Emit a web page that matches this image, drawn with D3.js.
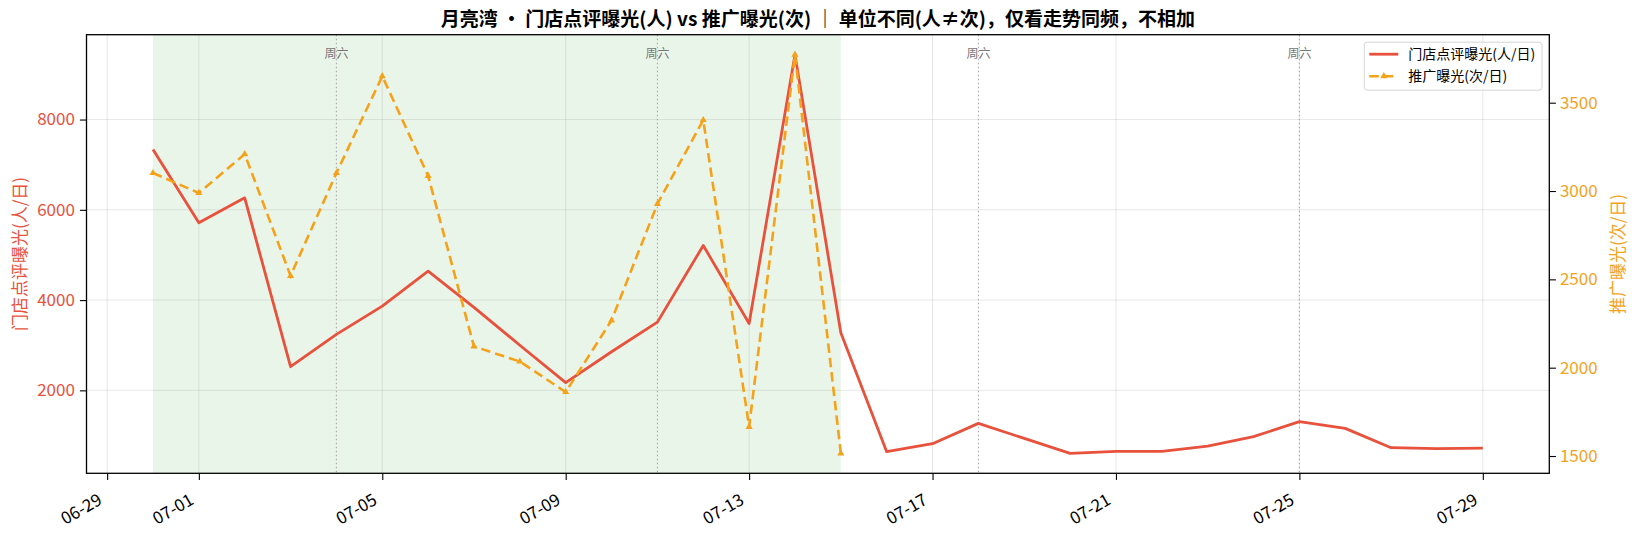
<!DOCTYPE html>
<html>
<head>
<meta charset="utf-8">
<script src="https://cdn.jsdelivr.net/npm/d3@7/dist/d3.min.js"></script>
<style>
    body { margin: 0; background: #fff; }
    svg text { font-family: "Noto Sans CJK SC", "Noto Sans", sans-serif; }
</style>
</head>
<body>
<svg width="1635" height="535"></svg>
<script>

    // data
    var days = ["2026-06-30", "2026-07-01", "2026-07-02", "2026-07-03", "2026-07-04", "2026-07-05",
        "2026-07-06", "2026-07-07", "2026-07-08", "2026-07-09", "2026-07-10", "2026-07-11",
        "2026-07-12", "2026-07-13", "2026-07-14", "2026-07-15", "2026-07-16", "2026-07-17",
        "2026-07-18", "2026-07-19", "2026-07-20", "2026-07-21", "2026-07-22", "2026-07-23",
        "2026-07-24", "2026-07-25", "2026-07-26", "2026-07-27", "2026-07-28", "2026-07-29"];
    var storeViews = [7335, 5712, 6265, 2524, 3240, 3866, 4641, 3840, 3000, 2170,
        2856, 3511, 5209, 3482, 9438, 3276, 642, 819, 1268, 935,
        604, 649, 649, 766, 974, 1306, 1158, 730, 708, 722];
    var promoDays = days.slice(0, 16);
    var promoViews = [3102, 2989, 3209, 2520, 3102, 3650, 3086, 2120, 2035, 1862,
        2268, 2927, 3402, 1665, 3772, 1515];
    var xTickLabels = ["06-29", "07-01", "07-05", "07-09", "07-13", "07-17", "07-21", "07-25", "07-29"];
    var leftTicks = [2000, 4000, 6000, 8000];
    var rightTicks = [1500, 2000, 2500, 3000, 3500];
    var saturdays = ["2026-07-04", "2026-07-11", "2026-07-18", "2026-07-25"];
    var promoSpan = ["2026-06-30", "2026-07-15"];

    var storeName = "门店点评曝光(人/日)",
        promoName = "推广曝光(次/日)",
        title = "月亮湾 • 门店点评曝光(人) vs 推广曝光(次) ｜ 单位不同(人≠次)，仅看走势同频，不相加";

    var red = "#e8513c", orange = "#f5a21b";

    var parse = d3.timeParse("%Y-%m-%d");
    var storeData = days.map(function(d, i) { return {date: parse(d), v: storeViews[i]}; });
    var promoData = promoDays.map(function(d, i) { return {date: parse(d), v: promoViews[i]}; });

    var svg = d3.select("svg"),
        margin = {top: 34.7, right: 85.7, bottom: 61.7, left: 86.5},
        width = +svg.attr("width") - margin.left - margin.right,
        height = +svg.attr("height") - margin.top - margin.bottom;

    // matplotlib-like 5% margins
    function pad(ext) {
        var r = ext[1] - ext[0];
        return [ext[0] - 0.05 * r, ext[1] + 0.05 * r];
    }

    var xExt = pad(d3.extent(storeData, function(d) { return +d.date; }));
    var x = d3.scaleTime().domain([new Date(xExt[0]), new Date(xExt[1])]).range([0, width]);
    var y = d3.scaleLinear().domain(pad(d3.extent(storeViews))).range([height, 0]);
    var y2 = d3.scaleLinear().domain(pad(d3.extent(promoViews))).range([height, 0]);

    var tickDates = xTickLabels.map(function(t) { return parse("2026-" + t); });

    var g = svg.append("g")
        .attr("transform", "translate(" + margin.left + "," + margin.top + ")");

    // promo period shading
    g.append("rect")
        .attr("x", x(parse(promoSpan[0])))
        .attr("y", 0)
        .attr("width", x(parse(promoSpan[1])) - x(parse(promoSpan[0])))
        .attr("height", height)
        .attr("fill", "#2ca02c")
        .attr("fill-opacity", 0.1);

    // grid
    g.selectAll(".vgrid").data(tickDates).enter().append("line")
        .attr("x1", function(d) { return x(d); }).attr("x2", function(d) { return x(d); })
        .attr("y1", 0).attr("y2", height)
        .attr("stroke", "#b0b0b0").attr("stroke-opacity", 0.35).attr("stroke-width", 0.9);
    g.selectAll(".hgrid").data(leftTicks).enter().append("line")
        .attr("x1", 0).attr("x2", width)
        .attr("y1", function(d) { return y(d); }).attr("y2", function(d) { return y(d); })
        .attr("stroke", "#b0b0b0").attr("stroke-opacity", 0.35).attr("stroke-width", 0.9);

    // saturdays
    var sat = g.selectAll(".sat").data(saturdays).enter().append("g");
    sat.append("line")
        .attr("x1", function(d) { return x(parse(d)); }).attr("x2", function(d) { return x(parse(d)); })
        .attr("y1", 0).attr("y2", height)
        .attr("stroke", "#aaa").attr("stroke-width", 1.1)
        .attr("stroke-dasharray", "1.5,2.5");
    sat.append("text")
        .attr("x", function(d) { return x(parse(d)); })
        .attr("y", 23)
        .attr("text-anchor", "middle")
        .attr("font-size", "12px")
        .attr("fill", "#777")
        .text("周六");

    // lines
    var storeLine = d3.line().x(function(d) { return x(d.date); }).y(function(d) { return y(d.v); });
    var promoLine = d3.line().x(function(d) { return x(d.date); }).y(function(d) { return y2(d.v); });

    g.append("path")
        .datum(storeData)
        .attr("fill", "none")
        .attr("stroke", red)
        .attr("stroke-width", 2.8)
        .attr("stroke-linejoin", "round")
        .attr("d", storeLine);

    g.append("path")
        .datum(promoData)
        .attr("fill", "none")
        .attr("stroke", orange)
        .attr("stroke-width", 2.6)
        .attr("stroke-dasharray", "9.5,5")
        .attr("d", promoLine);

    var tri = d3.symbol().type(d3.symbolTriangle).size(22);
    g.selectAll(".mk").data(promoData).enter().append("path")
        .attr("transform", function(d) { return "translate(" + x(d.date) + "," + y2(d.v) + ")"; })
        .attr("d", tri)
        .attr("fill", orange);

    // axes
    var xAxis = g.append("g")
        .attr("transform", "translate(0," + height + ")")
        .call(d3.axisBottom(x).tickValues(tickDates).tickFormat(d3.timeFormat("%m-%d"))
            .tickSize(6.6).tickSizeOuter(0));
    xAxis.selectAll("text")
        .attr("x", null).attr("y", null).attr("dy", null)
        .attr("text-anchor", "end")
        .attr("transform", "translate(-4.5,30) rotate(-30)")
        .attr("font-size", "17px")
        .attr("fill", "#000");

    var yAxis = g.append("g")
        .call(d3.axisLeft(y).tickValues(leftTicks).tickFormat(d3.format("d"))
            .tickSize(6.6).tickPadding(5).tickSizeOuter(0));
    yAxis.selectAll("text").attr("font-size", "17px").attr("fill", red);

    var yAxis2 = g.append("g")
        .attr("transform", "translate(" + width + ",0)")
        .call(d3.axisRight(y2).tickValues(rightTicks).tickFormat(d3.format("d"))
            .tickSize(6.6).tickPadding(4).tickSizeOuter(0));
    yAxis2.selectAll("text").attr("font-size", "17px").attr("fill", orange);

    g.selectAll(".tick line").attr("stroke", "#000").attr("stroke-width", 1.1);
    g.selectAll(".domain").remove();

    // frame
    g.append("rect")
        .attr("width", width).attr("height", height)
        .attr("fill", "none").attr("stroke", "#000").attr("stroke-width", 1.3);

    // axis labels
    g.append("text")
        .attr("transform", "translate(" + (20 - margin.left) + "," + (height / 2) + ") rotate(-90)")
        .attr("text-anchor", "middle")
        .attr("dy", "0.35em")
        .attr("font-size", "17px")
        .attr("fill", red)
        .text(storeName);
    g.append("text")
        .attr("transform", "translate(" + (width + 1618 - 1549.3) + "," + (height / 2) + ") rotate(-90)")
        .attr("text-anchor", "middle")
        .attr("dy", "0.35em")
        .attr("font-size", "17px")
        .attr("fill", orange)
        .text(promoName);

    // legend
    var lg = g.append("g").attr("transform", "translate(" + (width - 185) + ",7.5)");
    lg.append("rect")
        .attr("width", 177.7).attr("height", 48).attr("rx", 3)
        .attr("fill", "#fff").attr("fill-opacity", 0.85)
        .attr("stroke", "#d5d5d5").attr("stroke-width", 1);
    lg.append("line").attr("x1", 5).attr("x2", 34).attr("y1", 12).attr("y2", 12)
        .attr("stroke", red).attr("stroke-width", 2.8);
    lg.append("line").attr("x1", 5).attr("x2", 34).attr("y1", 34).attr("y2", 34)
        .attr("stroke", orange).attr("stroke-width", 2.6).attr("stroke-dasharray", "9.5,5");
    lg.append("path").attr("transform", "translate(19.5,34)").attr("d", tri).attr("fill", orange);
    lg.append("text").attr("x", 44).attr("y", 12).attr("dy", "0.35em")
        .attr("font-size", "14px").attr("fill", "#000").text(storeName);
    lg.append("text").attr("x", 44).attr("y", 34).attr("dy", "0.35em")
        .attr("font-size", "14px").attr("fill", "#000").text(promoName);

    // title
    svg.append("text")
        .attr("x", margin.left + width / 2)
        .attr("y", 26)
        .attr("text-anchor", "middle")
        .attr("font-size", "19px")
        .attr("font-weight", "bold")
        .attr("fill", "#000")
        .text(title);

</script>
</body>
</html>
